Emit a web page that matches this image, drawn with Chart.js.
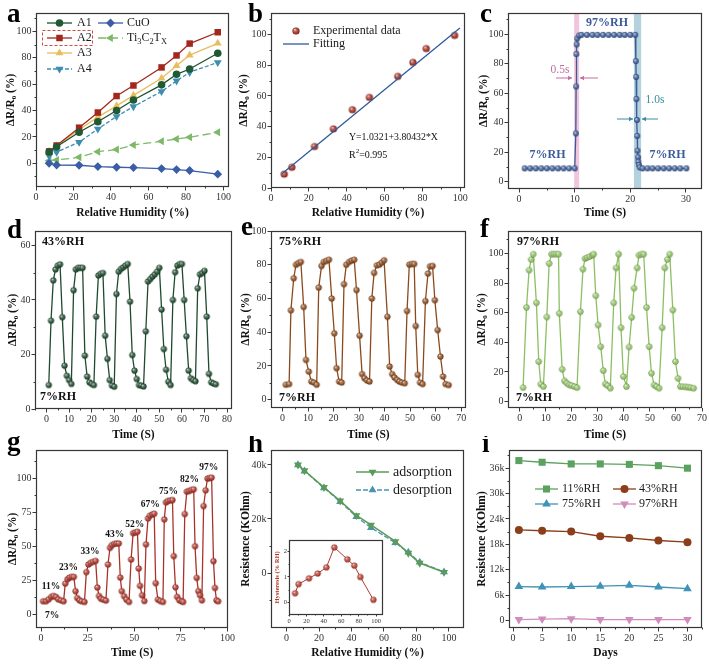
<!DOCTYPE html>
<html><head><meta charset="utf-8">
<script src="https://cdn.jsdelivr.net/npm/chart.js@4.4.1/dist/chart.umd.min.js"></script>
<style>
html,body{margin:0;padding:0;background:#fff;}
#wrap{position:relative;width:709px;height:664px;overflow:hidden;background:#fff;}
#wrap canvas{position:absolute;}
</style></head><body><div id="wrap"></div>
<script>
// ---------------- DATA ----------------
const rhLevels = [7, 11, 23, 33, 43, 52, 67, 75, 82, 97];
const respA1 = [8.5, 12.5, 23.5, 31.5, 40, 48, 59.5, 67.5, 71.5, 83.5];
const respA2 = [9, 13.5, 27, 38.5, 51, 59, 72.7, 81.8, 90.8, 99.4];
const respA3 = [9, 13, 25.5, 35, 43.5, 51.5, 64.5, 74, 82, 91];
const respA4 = [5.5, 8.5, 16, 26, 35.5, 43, 54.5, 62.5, 69, 76.5];
const respCuO = [0, -1.3, -1.5, -2.5, -3, -3.3, -4, -4.8, -5.5, -8.3];
const respTi = [2, 2.5, 4.5, 8.8, 10.4, 13.9, 16.7, 18.4, 19.7, 23.5];

const fitX = [5.8, 99.8];
const fitY = [9.3, 104.3];

const cTime = [1,2,3,4,5,6,7,8,9,10, 10.2,10.25,10.3,10.35,10.45,10.8,
  11.2,12.2,13.2,14.1,15.1,16.1,17.1,18.1,19,20,20.9,
  21,21.05,21.1,21.2,21.25,21.3,21.4,21.45,21.55,21.7,
  22.2,23.1,24,25,26,27,28,29,30.1];
const cResp = [9,9,9,9,9,9,9,9,9,9, 32.7,64.5,86.5,93,97,99,
  99.5,99.5,99.5,99.5,99.5,99.5,99.5,99.5,99.5,99.5,99.5,
  81.7,71,56,41.8,31,21,16.5,13.5,11.3,9.7,
  9,9,9,9,9,9,9,9,9];

const dTime = [1,2,3,4,5,6,7,8,9,10,11,12,13,14,15,16,17,18,19,20,21,22,23,24,25,26,27,28,29,30,
  31,32,33,34,35,36,37,38,39,40,41,42,43,44,45,46,47,48,49,50,51,52,53,54,55,56,57,58,59,60,
  61,62,63,64,65,66,67,68,69,70,71,72,73,74,75];
const dResp = [8.8,32.4,47.2,51.2,52.6,53.1,33.7,15.9,12.2,10.6,9.2,43.6,51.2,51.8,51.8,51.8,19.6,11.9,9.8,9.2,
  8.8,33.9,49,49.6,49.9,26.9,18.4,10.6,8.6,8.2,42.2,50.4,51.4,52,52.6,53.2,39.4,19.8,14.1,11,
  8.8,8.6,8.3,28.5,46.8,47.7,48.6,49.4,50.4,51.8,36.5,22,14.4,10,8.8,40,50.2,52.6,53.2,53.2,
  40,26.7,14.1,11.3,10.6,10.2,44.3,49.4,49.9,50.7,33.9,12.9,9.8,9.4,9.1];

const eTime = [1.3,2.6,3.3,4.4,5.3,6.2,7.2,8.3,9.2,10.3,11.3,12.3,13.4,14.2,15.3,16.2,17.2,18.2,19.3,20.3,
  21.2,22.2,23.2,24.1,25,26.1,27.1,28.1,29,30.2,31.2,32.1,33.1,34.1,35,35.9,37,38,38.9,39.8,
  41.1,42,43,43.9,44.9,45.8,46.8,47.9,48.8,49.7,50.7,51.6,52.2,53,53.9,54.9,56,57,57.8,58.8,
  59.7,60.8,61.9,62.9,63.9,65.1];
const eResp = [8.9,9.3,53,72,80,81,81.7,55,23.6,16.7,10.8,10.2,8.9,66.5,79.3,81.7,82.3,83,60,39.4,
  18.7,10.8,10.2,68.5,80,81.7,82.5,83,65,38,15.2,12.8,11.4,10.8,60,75.2,79.7,80.1,81.3,82.7,
  49.2,19.7,15.2,13.2,11.8,10.8,10.2,9.8,52.6,80.1,80.5,80.5,43.7,14.8,10.2,9.3,58.5,74.8,79.1,79.3,
  59,41.3,25.6,13.8,9.3,8.7];

const fTime = [1.3,2.6,3.6,4.4,5.2,6.4,7.3,8.1,9.1,10.4,11.3,12.2,13.1,14,14.9,15.2,16.3,17.2,18.1,19,
  20,21,22,23.3,24.3,25.1,25.9,26.9,27.9,28.4,29.2,30.1,31.1,32.1,32.9,33.8,34.8,36.1,37,38,
  38.9,39.8,41,42,43,43.9,45.1,45.8,46.7,47.6,48.7,49.7,50.6,51.6,52.5,53.5,54.7,55.7,56.7,57.6,
  58.8,59.8,60.8,61.7,62.7,63.8,64.7,65.7,66.8];
const fResp = [9.4,63.6,88.8,96,99.6,66.7,27,11.7,10.1,57.1,93.3,99.6,99.6,99.6,99.6,59.6,21.8,13.9,12.4,11.2,
  10.8,10.1,9.4,60.7,89.4,96.6,97.3,98,98.9,99.6,71.5,51.7,37.1,20.9,11.9,10.8,9,66.7,90.3,99.6,
  49.9,16.9,10.1,36.9,56.9,76.6,90.3,98.9,99.6,99.6,63.6,37.1,19.1,11.2,10.1,9,49.9,90.3,96,99.6,
  61.8,27,15.7,10.1,10.1,9.9,9.7,9.4,9];

const gTime = [1.1,2.7,4.1,5.5,6.7,8,9.2,10.7,12.1,13,14.2,15.3,16.5,17.6,18.5,19.4,20.6,21.8,23.3,24.3,
  25.4,26.6,27.9,29.3,30.2,31.1,32.1,33.4,34.8,35.9,37,38,39.3,40.5,41.7,42.5,43.3,44.6,45.8,47.2,
  48.3,49.4,50.6,51.7,52.4,53.1,54.2,55.4,56.3,57.4,58.4,59.7,60.7,61.5,62.7,64,65.4,66.1,67,68,
  69.3,70.5,71.2,72.1,73,74.2,75.5,76.2,77.1,78.2,79.4,80.6,81.9,82.6,83.5,84.4,85.3,86.3,87.2,88.3,
  89.3,90.4,91.5,92.5,93.3,94.1,95];
const gResp = [9.6,9.6,11,12.8,13.5,12.8,11,10.3,9.6,22.6,25.8,27,27.5,27.5,17,12,10.3,9.6,9.1,31,
  36.6,37.8,38.6,39.3,19.7,13.5,11.5,10.8,10.1,36.6,48.9,50.9,51.8,52.1,52.1,27,17,13.3,10.8,9.1,
  40.3,59.7,60.2,60.7,33.7,20.9,14,9.8,51.4,70.5,72.5,73.5,74,22.9,10.8,9.8,9.1,69.8,82.3,83.3,
  83.8,84,42.8,19.9,12.8,10.3,9.6,9.1,73.7,90.2,90.7,91.4,91.9,50.1,26.8,17,14,10.3,79.6,91.2,
  99.8,100.2,100.5,39.1,19.4,10.3,9.6];
const gLevelLabels = ['7%','11%','23%','33%','43%','52%','67%','75%','82%','97%'];
const gLabelX = [5.9, 5.3, 14.7, 26.3, 39.6, 50.3, 58.6, 68.4, 79.6, 89.9];
const gLabelY = [-0.7, 20.4, 34.4, 46.2, 58.9, 66.3, 80.6, 90, 99.3, 107.9];

const hAdsorption = [40000, 37900, 31700, 26700, 21300, 17800, 11700, 7400, 3700, 300];
const hDesorption = [40000, 37700, 31500, 26400, 20800, 16800, 11200, 7700, 4000, 400];
const hysteresis = [0.36, 0.72, 0.95, 1.14, 1.38, 2.17, 1.7, 1.45, 1.0, 0.1];

const days = [1, 5, 10, 15, 20, 25, 30];
const res11 = [37800, 37400, 37000, 37000, 36900, 36600, 36000];
const res43 = [21400, 21200, 21000, 19900, 19500, 18900, 18500];
const res75 = [8000, 7900, 8000, 8100, 8300, 7900, 7500];
const res97 = [200, 300, 400, 200, 200, 200, 200];

// tick values
const ticksRH = [0, 20, 40, 60, 80, 100];
const ticksPct = [0, 20, 40, 60, 80, 100];
const ticksC = [0, 10, 20, 30];
const ticksD = [0, 10, 20, 30, 40, 50, 60, 70, 80];
const ticksDY = [0, 20, 40, 60];
const ticksEF = [0, 10, 20, 30, 40, 50, 60, 70];
const ticksG = [0, 25, 50, 75, 100];
const ticksHY = [0, 20000, 40000];
const ticksInsetY = [0, 1, 2];
const ticksDays = [0, 5, 10, 15, 20, 25, 30];
const ticksIY = [0, 6000, 12000, 18000, 24000, 30000, 36000];

// ---------------- HELPERS ----------------
const SERIF = '"Liberation Serif", "Times New Roman", serif';
Chart.defaults.font.family = SERIF;
const wrap = document.getElementById('wrap');
const xy = (xs, ys) => xs.map((x, i) => ({x: x, y: ys[i]}));
const kFmt = v => v === 0 ? '0' : (v / 1000) + 'k';

function mix(hex, t, to) {
  const n = parseInt(hex.slice(1), 16);
  const r = (n >> 16) & 255, g = (n >> 8) & 255, b = n & 255;
  return 'rgb(' + Math.round(r + (to[0] - r) * t) + ',' + Math.round(g + (to[1] - g) * t) + ',' + Math.round(b + (to[2] - b) * t) + ')';
}
function sphere(hex, r) {
  const s = Math.ceil(2 * r + 2);
  const c = document.createElement('canvas'); c.width = s; c.height = s;
  const g = c.getContext('2d'); const cx = s / 2, cy = s / 2;
  const gr = g.createRadialGradient(cx - 0.35 * r, cy - 0.4 * r, 0.05 * r, cx, cy, r);
  gr.addColorStop(0, mix(hex, 0.8, [255, 255, 255]));
  gr.addColorStop(0.35, mix(hex, 0.3, [255, 255, 255]));
  gr.addColorStop(0.8, hex);
  gr.addColorStop(1, mix(hex, 0.35, [0, 0, 0]));
  g.fillStyle = gr; g.beginPath(); g.arc(cx, cy, r, 0, 2 * Math.PI); g.fill();
  return c;
}
function drawMarker(ctx, ds, x, y) {
  const st = ds.pointStyle;
  if (st instanceof HTMLCanvasElement) { ctx.drawImage(st, x - st.width / 2, y - st.height / 2); return; }
  const r = ds.pointRadius, rot = (ds.pointRotation || 0) * Math.PI / 180;
  ctx.save(); ctx.translate(x, y); ctx.rotate(rot); ctx.beginPath();
  if (st === 'rect') { const s = r * Math.SQRT1_2; ctx.rect(-s, -s, 2 * s, 2 * s); }
  else if (st === 'rectRot') { ctx.moveTo(0, -r); ctx.lineTo(r, 0); ctx.lineTo(0, r); ctx.lineTo(-r, 0); ctx.closePath(); }
  else if (st === 'triangle') {
    for (let i = 0; i < 3; i++) { const a = i * 2 * Math.PI / 3; const px = Math.sin(a) * r, py = -Math.cos(a) * r; if (i) ctx.lineTo(px, py); else ctx.moveTo(px, py); }
    ctx.closePath();
  } else ctx.arc(0, 0, r, 0, 2 * Math.PI);
  ctx.fillStyle = ds.pointBackgroundColor; ctx.fill();
  if (ds.pointBorderWidth) { ctx.lineWidth = ds.pointBorderWidth; ctx.strokeStyle = ds.pointBorderColor; ctx.stroke(); }
  ctx.restore();
}
function drawRich(ctx, parts, x, y, size, weight, color, align) {
  if (typeof parts === 'string') parts = [[parts, '']];
  const fm = sz => (weight || 'normal') + ' ' + sz + 'px ' + SERIF;
  let w = 0;
  parts.forEach(p => { ctx.font = fm(p[1] ? size * 0.7 : size); w += ctx.measureText(p[0]).width; });
  let cx = align === 'center' ? x - w / 2 : (align === 'right' ? x - w : x);
  ctx.fillStyle = color || '#111'; ctx.textBaseline = 'middle'; ctx.textAlign = 'left';
  parts.forEach(p => {
    const sz = p[1] ? size * 0.7 : size; ctx.font = fm(sz);
    const dy = p[1] === 'sub' ? size * 0.32 : (p[1] === 'sup' ? -size * 0.35 : 0);
    ctx.fillText(p[0], cx, y + dy); cx += ctx.measureText(p[0]).width;
  });
}
function arrow(ctx, a) {
  ctx.save(); ctx.strokeStyle = a.color; ctx.fillStyle = a.color; ctx.lineWidth = 1;
  ctx.beginPath(); ctx.moveTo(a.x1, a.y); ctx.lineTo(a.x2, a.y); ctx.stroke();
  const d = a.x2 > a.x1 ? 1 : -1;
  ctx.beginPath(); ctx.moveTo(a.x2, a.y); ctx.lineTo(a.x2 - d * 4, a.y - 2.2); ctx.lineTo(a.x2 - d * 4, a.y + 2.2); ctx.closePath(); ctx.fill();
  ctx.restore();
}

function decoPlugin(p) {
  return {
    id: 'deco',
    beforeDatasetsDraw(chart) {
      const {ctx, chartArea: ca, scales} = chart;
      (p.bands || []).forEach(b => {
        const x1 = scales.x.getPixelForValue(b.from), x2 = scales.x.getPixelForValue(b.to);
        ctx.save(); ctx.fillStyle = b.color; ctx.fillRect(x1, ca.top, x2 - x1, ca.bottom - ca.top); ctx.restore();
      });
    },
    afterDraw(chart) {
      const {ctx, chartArea: ca, scales} = chart;
      ctx.save();
      const L = Math.round(ca.left) + 0.5, T = Math.round(ca.top) + 0.5, R = Math.round(ca.right) - 0.5, B = Math.round(ca.bottom) - 0.5;
      ctx.strokeStyle = '#363636'; ctx.lineWidth = 1.2;
      ctx.strokeRect(L, T, R - L, B - T);
      ctx.lineWidth = 1;
      // minor ticks
      const ml = p.minorLen || 2;
      ['x', 'y'].forEach(k => {
        const s = scales[k], t = p[k].ticks;
        if (!t || t.length < 2) return;
        const step = (t[1] - t[0]) / 2;
        let v = t[0] - step;
        while (v - 2 * step >= s.min) v -= 2 * step;
        ctx.beginPath();
        for (; v <= s.max + 1e-9; v += 2 * step) {
          if (v < s.min - 1e-9) continue;
          const px = s.getPixelForValue(v);
          if (k === 'x') { ctx.moveTo(Math.round(px) + 0.5, B); ctx.lineTo(Math.round(px) + 0.5, B + ml); }
          else { ctx.moveTo(L, Math.round(px) + 0.5); ctx.lineTo(L - ml, Math.round(px) + 0.5); }
        }
        ctx.stroke();
      });
      // legend
      (p.legend || []).forEach(it => {
        const ds = chart.data.datasets[it.ds];
        if (!it.noLine) {
          ctx.save(); ctx.strokeStyle = ds.borderColor; ctx.lineWidth = ds.borderWidth || 1.3;
          ctx.setLineDash(ds.borderDash || []);
          ctx.beginPath(); ctx.moveTo(it.x1, it.y); ctx.lineTo(it.x2, it.y); ctx.stroke(); ctx.restore();
        }
        if (!it.noMarker) drawMarker(ctx, ds, it.mx !== undefined ? it.mx : (it.x1 + it.x2) / 2, it.y);
        drawRich(ctx, it.label, it.tx, it.y, it.size || 12, 'normal', '#1a1a1a', 'left');
      });
      (p.rects || []).forEach(r => {
        ctx.save(); ctx.strokeStyle = r.color; ctx.lineWidth = 1; ctx.setLineDash(r.dash || []);
        ctx.strokeRect(r.x + 0.5, r.y + 0.5, r.w, r.h); ctx.restore();
      });
      (p.arrows || []).forEach(a => arrow(ctx, a));
      (p.texts || []).forEach(t => {
        let x = t.x, y = t.y;
        if (t.data) { x = scales.x.getPixelForValue(t.x); y = scales.y.getPixelForValue(t.y); }
        drawRich(ctx, t.text, x, y, t.size || 11, t.weight || 'normal', t.color || '#111', t.align || 'left');
      });
      if (p.letter) {
        ctx.fillStyle = '#000'; ctx.font = 'bold 27px ' + SERIF; ctx.textAlign = 'left'; ctx.textBaseline = 'alphabetic';
        ctx.fillText(p.letter.t, p.letter.x, p.letter.y);
      }
      ctx.restore();
    }
  };
}

function makePanel(p) {
  const [left, top, W, H] = p.box;
  const [pl, pt, pr, pb] = p.plot;
  const cv = document.createElement('canvas');
  cv.width = W; cv.height = H;
  cv.style.left = left + 'px'; cv.style.top = top + 'px';
  cv.style.width = W + 'px'; cv.style.height = H + 'px';
  wrap.appendChild(cv);
  const tickFont = {family: SERIF, size: p.tickSize || 10};
  const titleFont = {family: SERIF, size: p.titleSize || 11.5, weight: 'bold'};
  const tl = p.tickLen !== undefined ? p.tickLen : 3.5;
  const tp = p.tickPad !== undefined ? p.tickPad : 1;
  function axis(k) {
    const a = p[k];
    return {
      type: 'linear', min: a.min, max: a.max,
      afterFit: s => { if (k === 'x') s.height = H - pb; else s.width = pl; },
      afterBuildTicks: s => { s.ticks = a.ticks.map(v => ({value: v})); },
      ticks: {font: tickFont, color: '#333', padding: tp, maxRotation: 0, minRotation: 0, autoSkip: false,
              callback: a.fmt || (v => String(v))},
      grid: {drawOnChartArea: false, drawTicks: true, tickLength: tl, color: '#3a3a3a', lineWidth: 1},
      border: {display: false},
      title: {display: !!a.title, text: a.title || '', font: a.titleFont || titleFont, color: a.titleColor || '#111',
              padding: {top: a.tpad || 0, bottom: a.tpad || 0}}
    };
  }
  return new Chart(cv, {
    type: 'line',
    data: {datasets: p.datasets},
    options: {
      responsive: false, animation: false, events: [],
      layout: {padding: {left: 0, top: pt, right: W - pr, bottom: 0}},
      plugins: {legend: {display: false}, tooltip: {enabled: false}},
      scales: {x: axis('x'), y: axis('y')}
    },
    plugins: [decoPlugin(p)]
  });
}
function lineDs(o) {
  return Object.assign({tension: 0, fill: false, borderWidth: 1.3, pointBorderWidth: 0, showLine: true}, o);
}

const Y_DR = 'ΔR/R₀ (%)';
const X_RH = 'Relative Humidity (%)';
const X_T = 'Time (S)';
const Y_RES = 'Resistence (KOhm)';

// ---------------- PANEL a ----------------
makePanel({
  box: [0, 0, 236, 220], plot: [36, 13, 229, 187],
  x: {min: 0, max: 103, ticks: ticksRH, title: X_RH, tpad: 0},
  y: {min: -18, max: 114, ticks: ticksPct, title: Y_DR, tpad: 4},
  datasets: [
    lineDs({label: 'A1', data: xy(rhLevels, respA1), borderColor: '#1e4f2f', pointStyle: 'circle', pointRadius: 3.8, pointBackgroundColor: '#1f5a34'}),
    lineDs({label: 'A2', data: xy(rhLevels, respA2), borderColor: '#a3271d', pointStyle: 'rect', pointRadius: 4.6, pointBackgroundColor: '#a3271d'}),
    lineDs({label: 'A3', data: xy(rhLevels, respA3), borderColor: '#e8bd5e', pointStyle: 'triangle', pointRadius: 4.6, pointBackgroundColor: '#e8bd5e'}),
    lineDs({label: 'A4', data: xy(rhLevels, respA4), borderColor: '#3d8db0', borderDash: [4, 2], pointStyle: 'triangle', pointRotation: 180, pointRadius: 4.6, pointBackgroundColor: '#3d8db0'}),
    lineDs({label: 'CuO', data: xy(rhLevels, respCuO), borderColor: '#3a5da6', pointStyle: 'rectRot', pointRadius: 4.4, pointBackgroundColor: '#3a5da6'}),
    lineDs({label: 'Ti3C2Tx', data: xy(rhLevels, respTi), borderColor: '#7db866', borderDash: [8, 4], pointStyle: 'triangle', pointRotation: -90, pointRadius: 4.6, pointBackgroundColor: '#7db866'})
  ],
  legend: [
    {ds: 0, x1: 47, x2: 72, y: 23, tx: 77, label: 'A1'},
    {ds: 1, x1: 47, x2: 72, y: 38, tx: 77, label: 'A2'},
    {ds: 2, x1: 47, x2: 72, y: 53, tx: 77, label: 'A3'},
    {ds: 3, x1: 47, x2: 72, y: 69, tx: 77, label: 'A4'},
    {ds: 4, x1: 98, x2: 123, y: 23, tx: 127, label: 'CuO'},
    {ds: 5, x1: 98, x2: 123, y: 38, tx: 127, label: [['Ti', ''], ['3', 'sub'], ['C', ''], ['2', 'sub'], ['T', ''], ['X', 'sub']]}
  ],
  rects: [{x: 42, y: 30, w: 50, h: 15, color: '#cf4a43', dash: [3, 2]}],
  letter: {t: 'a', x: 7, y: 22}
});

// ---------------- PANEL b ----------------
makePanel({
  box: [236, 0, 234, 220], plot: [35, 13, 229, 188],
  x: {min: 0, max: 102.5, ticks: ticksRH, title: X_RH, tpad: 0},
  y: {min: 0, max: 114, ticks: ticksPct, title: Y_DR, tpad: 1},
  datasets: [
    lineDs({label: 'Fitting', data: xy(fitX, fitY), borderColor: '#2f5b9a', borderWidth: 1.3, pointRadius: 0}),
    lineDs({label: 'Experimental data', data: xy(rhLevels, respA2), showLine: false, borderColor: '#a22d20', pointStyle: sphere('#a22d20', 3.6), pointRadius: 3.6})
  ],
  legend: [
    {ds: 1, x1: 60, x2: 60, mx: 60, y: 31, tx: 77, label: 'Experimental data', noLine: true},
    {ds: 0, x1: 47, x2: 73, y: 44, tx: 77, label: 'Fitting', noMarker: true}
  ],
  texts: [
    {text: 'Y=1.0321+3.80432*X', x: 113, y: 137, size: 9.8},
    {text: [['R', ''], ['2', 'sup'], ['=0.995', '']], x: 113, y: 155, size: 10}
  ],
  letter: {t: 'b', x: 12, y: 22}
});

// ---------------- PANEL c ----------------
makePanel({
  box: [470, 0, 239, 220], plot: [38, 13, 232, 189],
  x: {min: -2, max: 32.9, ticks: ticksC, title: X_T, tpad: 0},
  y: {min: -5, max: 114.3, ticks: ticksPct, title: Y_DR, tpad: 7},
  datasets: [
    lineDs({data: xy(cTime, cResp), borderColor: '#3b5a96', borderWidth: 1.3, pointStyle: sphere('#3b5a96', 2.9), pointRadius: 2.9})
  ],
  bands: [{from: 9.9, to: 10.8, color: 'rgba(236,178,210,0.75)'}, {from: 20.65, to: 21.95, color: 'rgba(130,180,200,0.6)'}],
  arrows: [
    {x1: 86, x2: 102, y: 78, color: '#c56da0'}, {x1: 128, x2: 110, y: 78, color: '#c56da0'},
    {x1: 147, x2: 163, y: 119, color: '#3a8ca5'}, {x1: 188, x2: 172, y: 119, color: '#3a8ca5'}
  ],
  texts: [
    {text: '97%RH', x: 137, y: 23, size: 12, weight: 'bold', color: '#3b5a9a', align: 'center'},
    {text: '0.5s', x: 90, y: 70, size: 11.5, color: '#c56da0', align: 'center'},
    {text: '1.0s', x: 185, y: 100, size: 11.5, color: '#3a8ca5', align: 'center'},
    {text: '7%RH', x: 77.5, y: 155, size: 12, weight: 'bold', color: '#3b5a9a', align: 'center'},
    {text: '7%RH', x: 197.5, y: 155, size: 12, weight: 'bold', color: '#3b5a9a', align: 'center'}
  ],
  letter: {t: 'c', x: 10, y: 22}
});

// ---------------- PANEL d ----------------
makePanel({
  box: [0, 218, 236, 224], plot: [35, 13, 233, 191],
  x: {min: -5.1, max: 82.2, ticks: ticksD, title: X_T, tpad: 0},
  y: {min: 0, max: 65.3, ticks: ticksDY, title: Y_DR, tpad: 6},
  datasets: [
    lineDs({data: xy(dTime, dResp), borderColor: '#1f4a2e', pointStyle: sphere('#1f4a2e', 3.1), pointRadius: 3.1})
  ],
  texts: [
    {text: '43%RH', x: 42, y: 24, size: 12, weight: 'bold'},
    {text: '7%RH', x: 40, y: 179, size: 12, weight: 'bold'}
  ],
  letter: {t: 'd', x: 7, y: 20}
});

// ---------------- PANEL e ----------------
makePanel({
  box: [236, 218, 234, 224], plot: [35, 13, 233, 190],
  x: {min: -4.5, max: 71.9, ticks: ticksEF, title: X_T, tpad: 0},
  y: {min: -4.9, max: 100, ticks: ticksPct, title: Y_DR, tpad: 3},
  datasets: [
    lineDs({data: xy(eTime, eResp), borderColor: '#8a4a1d', pointStyle: sphere('#8a4a1d', 3.1), pointRadius: 3.1})
  ],
  texts: [
    {text: '75%RH', x: 43, y: 24, size: 12, weight: 'bold'},
    {text: '7%RH', x: 43, y: 180, size: 12, weight: 'bold'}
  ],
  letter: {t: 'e', x: 5, y: 17}
});

// ---------------- PANEL f ----------------
makePanel({
  box: [470, 218, 239, 224], plot: [38, 13, 232, 190],
  x: {min: -4.5, max: 70, ticks: ticksEF, title: X_T, tpad: 0},
  y: {min: -4.4, max: 115.2, ticks: ticksPct, title: Y_DR, tpad: 5.5},
  datasets: [
    lineDs({data: xy(fTime, fResp), borderColor: '#8dbf62', pointStyle: sphere('#8dbf62', 3.1), pointRadius: 3.1})
  ],
  texts: [
    {text: '97%RH', x: 47, y: 24, size: 12, weight: 'bold'},
    {text: '7%RH', x: 46, y: 180, size: 12, weight: 'bold'}
  ],
  letter: {t: 'f', x: 10, y: 19}
});

// ---------------- PANEL g ----------------
makePanel({
  box: [0, 436, 236, 224], plot: [36, 14, 229, 192],
  x: {min: -2.7, max: 100.5, ticks: ticksG, title: X_T, tpad: 0},
  y: {min: -10.1, max: 120.8, ticks: ticksG, title: Y_DR, tpad: 6},
  datasets: [
    lineDs({data: xy(gTime, gResp), borderColor: '#a93329', pointStyle: sphere('#a93329', 3.1), pointRadius: 3.1})
  ],
  texts: gLevelLabels.map((t, i) => ({text: t, x: gLabelX[i], y: gLabelY[i], data: true, size: 9.5, weight: 'bold', align: 'center'})),
  letter: {t: 'g', x: 7, y: 14}
});

// ---------------- PANEL h ----------------
makePanel({
  box: [236, 436, 234, 224], plot: [35, 14, 228, 192],
  x: {min: -9.6, max: 109.3, ticks: ticksRH, title: X_RH, tpad: 0},
  y: {min: -20300, max: 45500, ticks: ticksHY, title: Y_RES, tpad: 3, fmt: kFmt},
  datasets: [
    lineDs({label: 'adsorption', data: xy(rhLevels, hAdsorption), borderColor: '#5b9b55', borderWidth: 1.5, pointStyle: 'triangle', pointRotation: 180, pointRadius: 4.6, pointBackgroundColor: '#5b9b55'}),
    lineDs({label: 'desorption', data: xy(rhLevels, hDesorption), borderColor: '#4b93b3', borderWidth: 1.3, borderDash: [5, 2], pointStyle: 'triangle', pointRadius: 4.6, pointBackgroundColor: '#4b93b3'})
  ],
  legend: [
    {ds: 0, x1: 120, x2: 153, y: 36, tx: 157, label: 'adsorption', size: 14},
    {ds: 1, x1: 120, x2: 153, y: 54, tx: 157, label: 'desorption', size: 14}
  ],
  letter: {t: 'h', x: 12, y: 16}
});

// ---------------- PANEL i ----------------
makePanel({
  box: [470, 436, 239, 224], plot: [39, 14, 232, 192],
  x: {min: -0.7, max: 32.5, ticks: ticksDays, title: 'Days', tpad: 0},
  y: {min: -1800, max: 40300, ticks: ticksIY, title: Y_RES, tpad: 5.5, fmt: kFmt},
  datasets: [
    lineDs({label: '11%RH', data: xy(days, res11), borderColor: '#5ba15f', pointStyle: 'rect', pointRadius: 5, pointBackgroundColor: '#5ba15f'}),
    lineDs({label: '43%RH', data: xy(days, res43), borderColor: '#8b3e1a', pointStyle: 'circle', pointRadius: 4, pointBackgroundColor: '#8b3e1a'}),
    lineDs({label: '75%RH', data: xy(days, res75), borderColor: '#3f93b6', pointStyle: 'triangle', pointRadius: 5, pointBackgroundColor: '#3f93b6'}),
    lineDs({label: '97%RH', data: xy(days, res97), borderColor: '#d08dbb', pointStyle: 'triangle', pointRotation: 180, pointRadius: 5, pointBackgroundColor: '#d08dbb'})
  ],
  legend: [
    {ds: 0, x1: 65, x2: 88, y: 53, tx: 92, label: '11%RH', size: 12},
    {ds: 1, x1: 143, x2: 166, y: 53, tx: 169, label: '43%RH', size: 12},
    {ds: 2, x1: 65, x2: 88, y: 68, tx: 92, label: '75%RH', size: 12},
    {ds: 3, x1: 143, x2: 166, y: 68, tx: 169, label: '97%RH', size: 12}
  ],
  letter: {t: 'i', x: 12, y: 16}
});

// ---------------- INSET (h) ----------------
makePanel({
  box: [266, 535, 122, 95], plot: [23, 5, 117, 80],
  tickSize: 6.5, tickLen: 1.5, tickPad: 0.5, minorLen: 1,
  x: {min: 0, max: 108, ticks: ticksRH},
  y: {min: -0.5, max: 2.46, ticks: ticksInsetY, title: 'Hysteresis (% RH)', tpad: 7.5,
      titleColor: '#b03a2e', titleFont: {family: SERIF, size: 6.5, weight: 'bold'}},
  datasets: [
    lineDs({data: xy(rhLevels, hysteresis), borderColor: '#b23b2f', borderWidth: 1, pointStyle: sphere('#b23b2f', 3.1), pointRadius: 3.1})
  ]
});
</script>
</body></html>
